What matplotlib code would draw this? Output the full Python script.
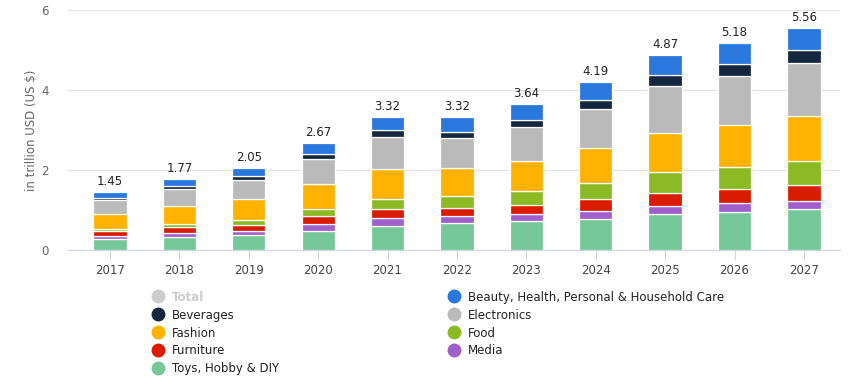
import numpy as np
import matplotlib
matplotlib.use("Agg")
import matplotlib.pyplot as plt
from matplotlib.lines import Line2D

# ---- Data (trillion USD) ----
years = ["2017", "2018", "2019", "2020", "2021", "2022", "2023", "2024", "2025", "2026", "2027"]
totals = [1.45, 1.77, 2.05, 2.67, 3.32, 3.32, 3.64, 4.19, 4.87, 5.18, 5.56]

toys = [0.27, 0.32, 0.37, 0.48, 0.61, 0.67, 0.72, 0.78, 0.89, 0.94, 1.02]
media = [0.07, 0.10, 0.11, 0.16, 0.18, 0.17, 0.17, 0.20, 0.21, 0.23, 0.21]
furniture = [0.14, 0.15, 0.15, 0.20, 0.24, 0.20, 0.23, 0.29, 0.32, 0.35, 0.40]
food = [0.04, 0.07, 0.11, 0.18, 0.25, 0.30, 0.35, 0.40, 0.52, 0.55, 0.59]
fashion = [0.37, 0.45, 0.53, 0.62, 0.74, 0.70, 0.75, 0.87, 0.98, 1.05, 1.12]
electronics = [0.36, 0.44, 0.49, 0.63, 0.80, 0.75, 0.85, 0.98, 1.17, 1.24, 1.33]
beverages = [0.05, 0.06, 0.08, 0.12, 0.17, 0.17, 0.19, 0.22, 0.28, 0.28, 0.32]
beauty = [0.15, 0.18, 0.21, 0.28, 0.33, 0.36, 0.38, 0.45, 0.50, 0.54, 0.57]

# bottom -> top stacking order
stack = [
    ("Toys, Hobby & DIY", toys, "#76c799"),
    ("Media", media, "#a15fcc"),
    ("Furniture", furniture, "#d91c00"),
    ("Food", food, "#8bba25"),
    ("Fashion", fashion, "#ffb200"),
    ("Electronics", electronics, "#bababa"),
    ("Beverages", beverages, "#14273f"),
    ("Beauty, Health, Personal & Household Care", beauty, "#2a77dd"),
]

fig = plt.figure(figsize=(8.55, 3.92), dpi=100)
ax = fig.add_axes([68 / 855, 1 - 250 / 392, (840 - 68) / 855, 240 / 392])

x = np.arange(len(years))
bottom = np.zeros(len(years))
for name, vals, col in stack:
    ax.bar(x, vals, 0.48, bottom=bottom, color=col, edgecolor="white", linewidth=0.9, zorder=3)
    bottom += np.array(vals)

for xi, t in zip(x, totals):
    ax.text(xi, t + 0.1, "%.2f" % t, ha="center", va="bottom", fontsize=8.5,
            color="#222222", fontweight="medium")

ax.set_xlim(-0.605, 10.52)
ax.set_ylim(0, 6)
ax.set_yticks([0, 2, 4, 6])
ax.set_xticks(x)
ax.set_xticklabels(years)
ax.grid(axis="y", color="#e3e3e3", linewidth=0.9, zorder=0)
for s in ["top", "right", "left"]:
    ax.spines[s].set_visible(False)
ax.spines["bottom"].set_color("#ccd6eb")
ax.tick_params(axis="y", length=0, labelsize=8.5, labelcolor="#666666", pad=14)
ax.tick_params(axis="x", length=7, color="#ccd6eb", labelsize=8.5, labelcolor="#444444", pad=3)
ax.set_ylabel("in trillion USD (US $)", fontsize=8.5, color="#666666", labelpad=2)

# ---- Legend ----
legend_order = [
    ("Total", "#cccccc"),
    ("Beverages", "#14273f"),
    ("Fashion", "#ffb200"),
    ("Furniture", "#d91c00"),
    ("Toys, Hobby & DIY", "#76c799"),
    ("Beauty, Health, Personal & Household Care", "#2a77dd"),
    ("Electronics", "#bababa"),
    ("Food", "#8bba25"),
    ("Media", "#a15fcc"),
]
handles = [Line2D([], [], marker="o", linestyle="", markersize=9, color=c) for _, c in legend_order]
leg = fig.legend(handles, [n for n, _ in legend_order], ncol=2, loc="upper left",
                 bbox_to_anchor=(141 / 855, 1 - 280 / 392), frameon=False, fontsize=8.5,
                 handletextpad=0.7, columnspacing=14.3, labelspacing=0.42, handlelength=1.0)
for t, (n, _) in zip(leg.get_texts(), legend_order):
    t.set_color("#cccccc" if n == "Total" else "#222222")
    if n == "Total":
        t.set_fontweight("bold")

fig.savefig("out.png", dpi=100)
